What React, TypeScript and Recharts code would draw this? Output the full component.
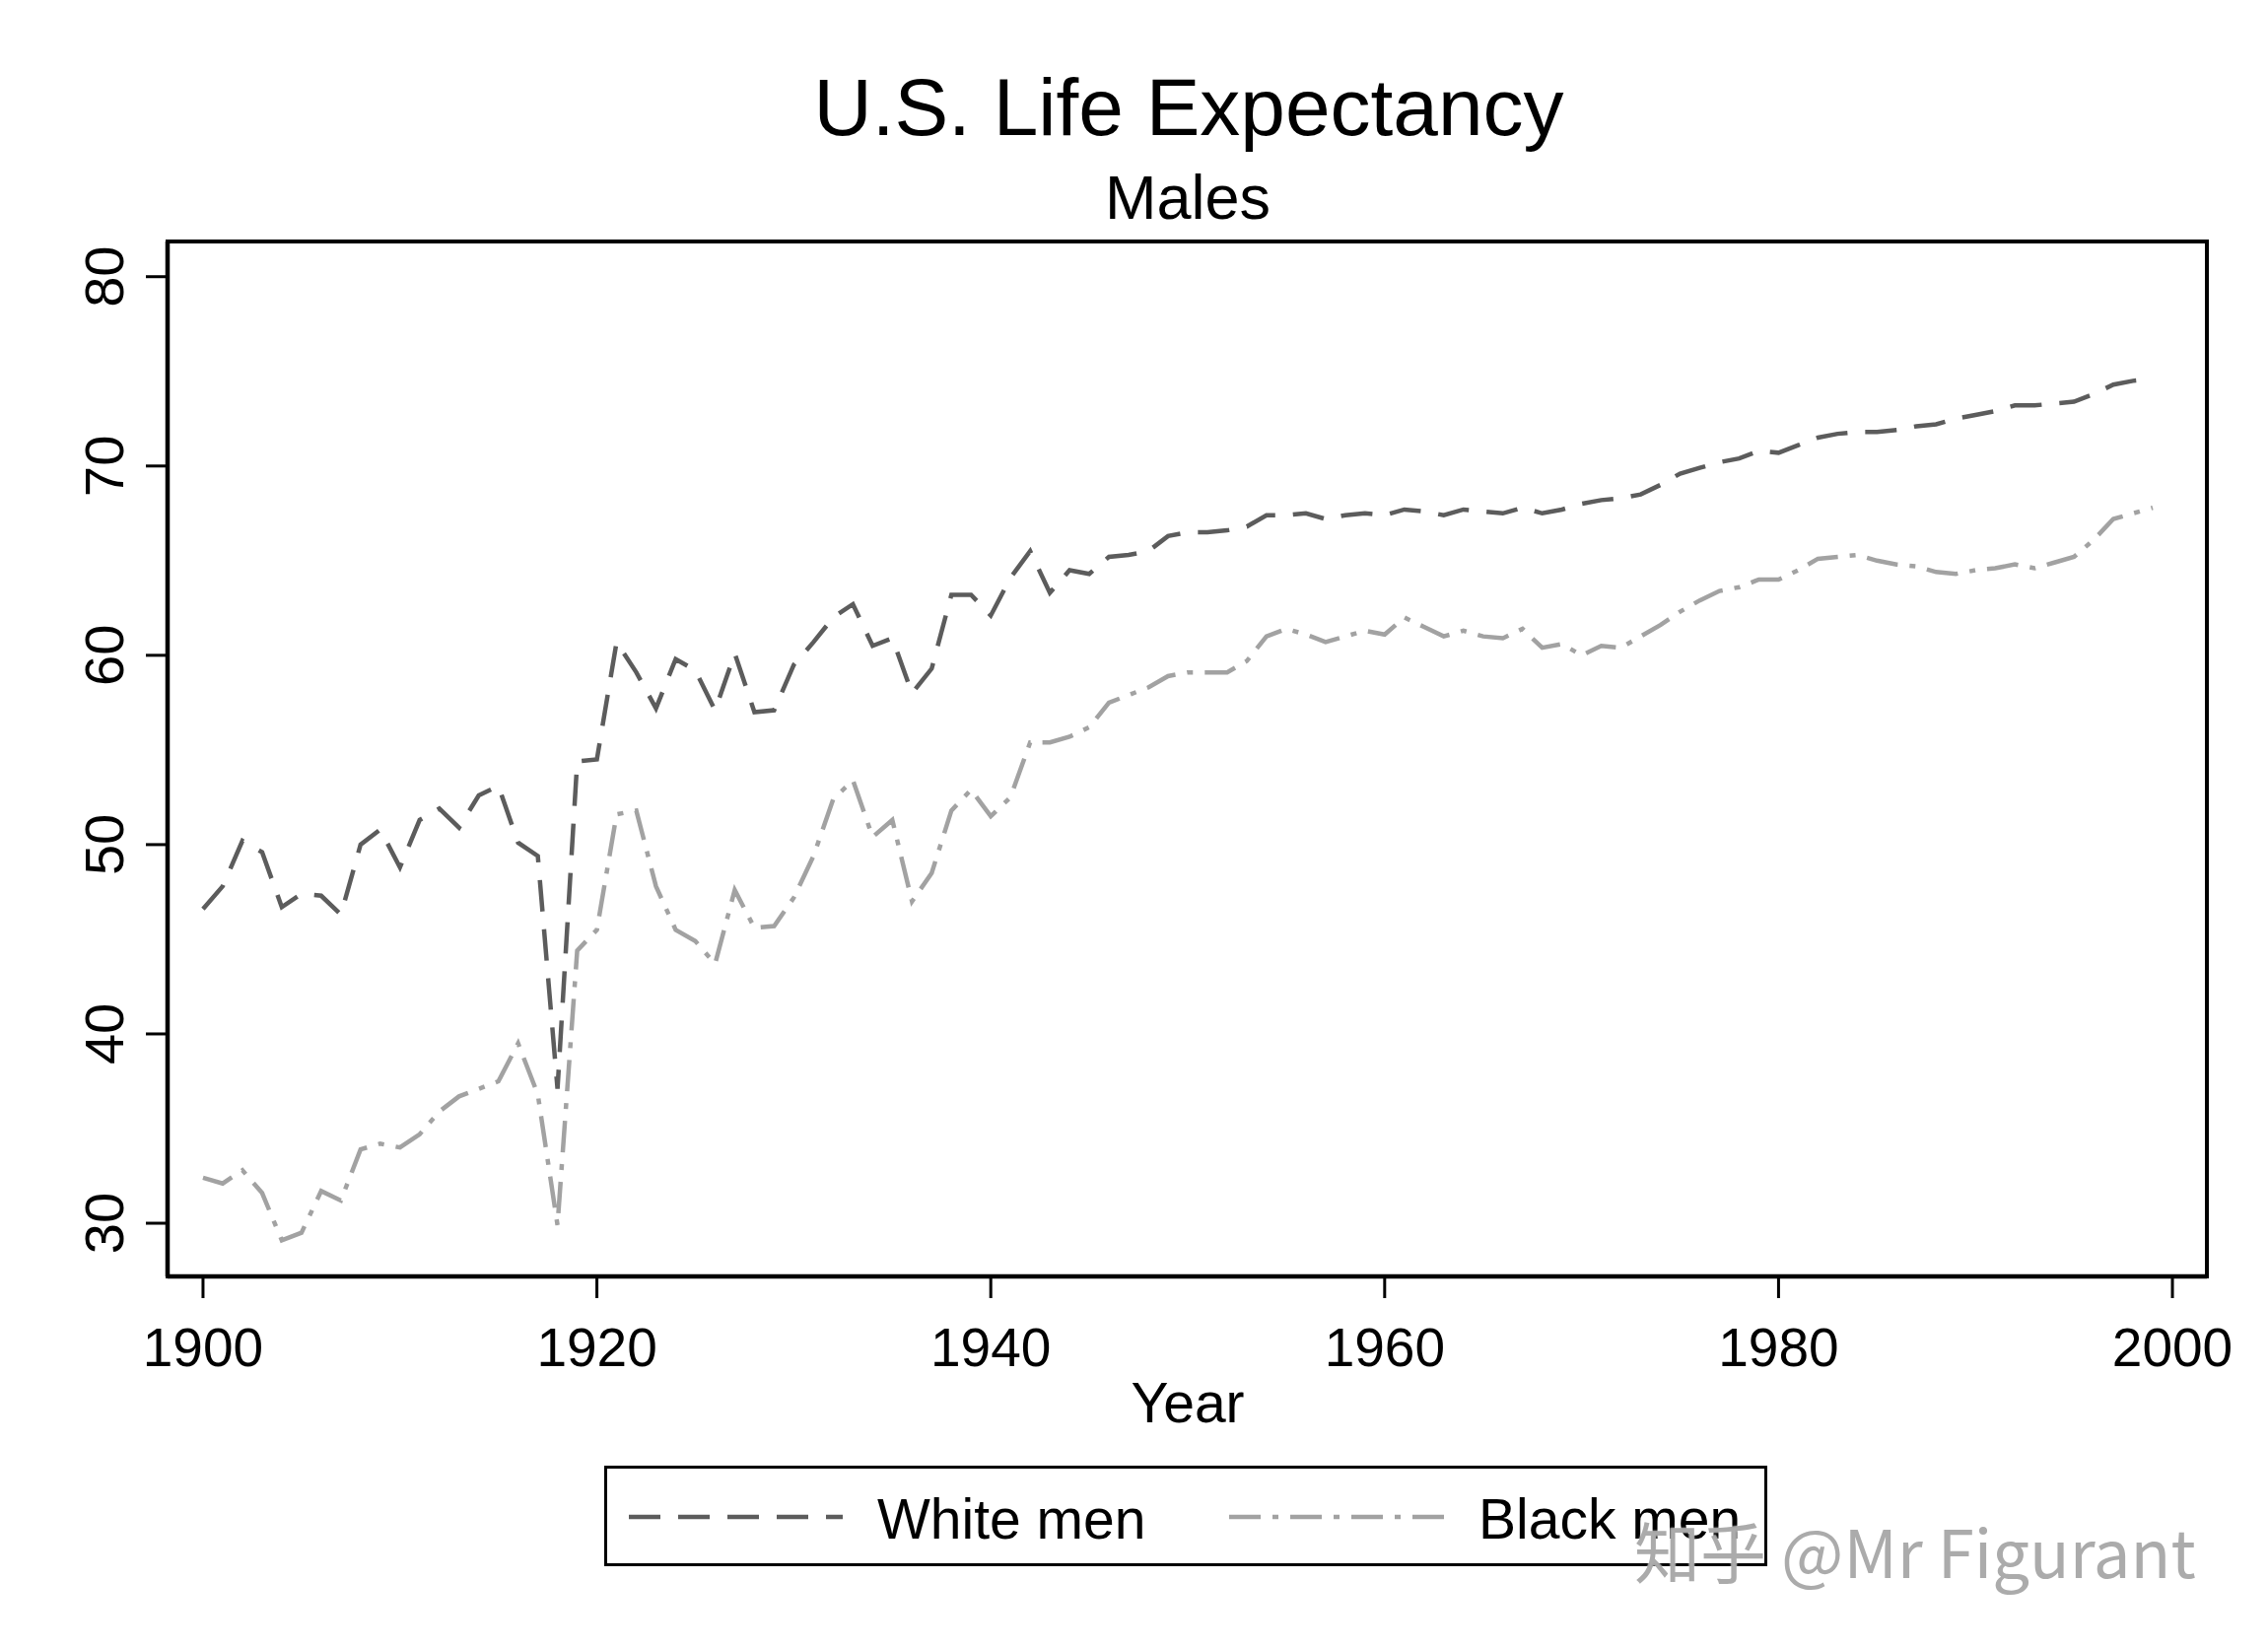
import { LineChart, Line, XAxis, YAxis } from 'recharts';

const FONT = '"Liberation Sans", Arial, Helvetica, sans-serif';

// years 1900-1999
const years = [
  1900, 1901, 1902, 1903, 1904, 1905, 1906, 1907, 1908, 1909,
  1910, 1911, 1912, 1913, 1914, 1915, 1916, 1917, 1918, 1919,
  1920, 1921, 1922, 1923, 1924, 1925, 1926, 1927, 1928, 1929,
  1930, 1931, 1932, 1933, 1934, 1935, 1936, 1937, 1938, 1939,
  1940, 1941, 1942, 1943, 1944, 1945, 1946, 1947, 1948, 1949,
  1950, 1951, 1952, 1953, 1954, 1955, 1956, 1957, 1958, 1959,
  1960, 1961, 1962, 1963, 1964, 1965, 1966, 1967, 1968, 1969,
  1970, 1971, 1972, 1973, 1974, 1975, 1976, 1977, 1978, 1979,
  1980, 1981, 1982, 1983, 1984, 1985, 1986, 1987, 1988, 1989,
  1990, 1991, 1992, 1993, 1994, 1995, 1996, 1997, 1998, 1999,
];

const whiteMen = [
  46.6, 47.8, 50.2, 49.6, 46.7, 47.4, 47.3, 46.3, 50.0, 50.8,
  48.8, 51.3, 51.9, 50.9, 52.6, 53.1, 50.1, 49.4, 37.1, 54.4,
  54.5, 60.7, 59.1, 57.2, 59.8, 59.2, 57.1, 60.1, 57.0, 57.1,
  59.5, 60.7, 62.0, 62.7, 60.5, 60.9, 58.0, 59.3, 63.2, 63.2,
  62.1, 64.1, 65.5, 63.3, 64.5, 64.3, 65.2, 65.3, 65.5, 66.3,
  66.5, 66.5, 66.6, 66.8, 67.4, 67.4, 67.5, 67.2, 67.4, 67.5,
  67.4, 67.7, 67.6, 67.4, 67.7, 67.6, 67.5, 67.8, 67.5, 67.7,
  68.0, 68.2, 68.3, 68.5, 69.0, 69.6, 69.9, 70.2, 70.4, 70.8,
  70.7, 71.1, 71.5, 71.7, 71.8, 71.8, 71.9, 72.1, 72.2, 72.5,
  72.7, 72.9, 73.2, 73.2, 73.3, 73.4, 73.8, 74.3, 74.5, 74.6,
];

const blackMen = [
  32.4, 32.1, 32.8, 31.6, 29.1, 29.5, 31.7, 31.2, 33.9, 34.2,
  34.0, 34.7, 35.9, 36.7, 37.1, 37.5, 39.5, 36.8, 29.9, 44.4,
  45.5, 51.6, 51.8, 47.8, 45.5, 44.9, 43.7, 47.6, 45.6, 45.7,
  47.2, 49.4, 52.4, 53.4, 50.4, 51.3, 47.0, 48.5, 51.8, 52.9,
  51.5, 52.5, 55.4, 55.4, 55.7, 56.2, 57.5, 57.9, 58.3, 58.9,
  59.1, 59.1, 59.1, 59.7, 61.0, 61.4, 61.1, 60.7, 61.0, 61.3,
  61.1, 62.0, 61.5, 61.0, 61.3, 61.0, 60.9, 61.4, 60.4, 60.6,
  60.0, 60.5, 60.4, 61.0, 61.6, 62.3, 62.9, 63.4, 63.6, 64.0,
  64.0, 64.5, 65.1, 65.2, 65.3, 65.0, 64.8, 64.7, 64.4, 64.3,
  64.5, 64.6, 64.8, 64.6, 64.9, 65.2, 66.1, 67.2, 67.5, 67.8,
];

const xTicks = [1900, 1920, 1940, 1960, 1980, 2000];
const yTicks = [30, 40, 50, 60, 70, 80];

const WHITE_COLOR = '#5c5c5c';
const BLACK_COLOR = '#a2a2a2';
const WHITE_DASH = '32 18';
const BLACK_DASH = '32 12 6 12';

const data = years.map((year, i) => ({
  year,
  white: whiteMen[i],
  black: blackMen[i],
}));

const RotatedTick = (props: any) => {
  const { x, y, payload } = props;
  return (
    <text
      transform={`translate(${x - 21}, ${y}) rotate(-90)`}
      textAnchor="middle"
      fontSize={56}
      fontFamily={FONT}
      fill="#000"
    >
      {payload.value}
    </text>
  );
};

const axisLine = { stroke: '#000', strokeWidth: 4.5 };
const tickLine = { stroke: '#000', strokeWidth: 3 };

const text = (size: number, baseline: number) => ({
  position: 'absolute' as const,
  fontFamily: FONT,
  fontSize: size,
  lineHeight: `${size}px`,
  top: baseline - 0.8465 * size,
  color: '#000',
  whiteSpace: 'nowrap' as const,
});

const App = () => {
  return (
    <div style={{ position: 'absolute', left: 0, top: 0, width: 2301, height: 1673, background: '#fff' }}>
      <LineChart
        width={2301}
        height={1673}
        data={data}
        margin={{ top: 245, right: 62, bottom: 278, left: 0 }}
      >
        <XAxis
          dataKey="year"
          type="number"
          domain={[1898.2, 2001.75]}
          ticks={xTicks}
          allowDataOverflow
          height={100}
          tickSize={22}
          tickMargin={30}
          axisLine={axisLine}
          tickLine={tickLine}
          tick={{ fontSize: 55, fill: '#000', fontFamily: FONT }}
        />
        <YAxis
          type="number"
          domain={[27.19, 81.86]}
          ticks={yTicks}
          allowDataOverflow
          width={170}
          tickSize={22}
          axisLine={axisLine}
          tickLine={tickLine}
          tick={<RotatedTick />}
        />
        <Line
          dataKey="white"
          stroke={WHITE_COLOR}
          strokeWidth={4.5}
          strokeDasharray={WHITE_DASH}
          dot={false}
          type="linear"
          isAnimationActive={false}
        />
        <Line
          dataKey="black"
          stroke={BLACK_COLOR}
          strokeWidth={4.5}
          strokeDasharray={BLACK_DASH}
          dot={false}
          type="linear"
          isAnimationActive={false}
        />
      </LineChart>

      {/* plot frame */}
      <div
        style={{
          position: 'absolute',
          left: 170 - 2.25,
          top: 245 - 2.25,
          width: 2239 - 170 + 4.5,
          height: 1295 - 245 + 4.5,
          boxSizing: 'border-box',
          border: '4.5px solid #000',
          pointerEvents: 'none',
        }}
      />

      <div style={{ ...text(82, 137), left: 0, width: 2412, textAlign: 'center' }}>U.S. Life Expectancy</div>
      <div style={{ ...text(63, 222), left: 0, width: 2410, textAlign: 'center' }}>Males</div>
      <div style={{ ...text(57, 1443), left: 0, width: 2410, textAlign: 'center' }}>Year</div>

      <div
        style={{
          position: 'absolute',
          left: 613,
          top: 1487,
          width: 1180,
          height: 102,
          boxSizing: 'border-box',
          border: '3.5px solid #000',
        }}
      />
      <svg style={{ position: 'absolute', left: 0, top: 0 }} width={2301} height={1673}>
        <line x1={638} y1={1539} x2={855} y2={1539} stroke={WHITE_COLOR} strokeWidth={4.5} strokeDasharray={WHITE_DASH} />
        <line x1={1247} y1={1539} x2={1467} y2={1539} stroke={BLACK_COLOR} strokeWidth={4.5} strokeDasharray={BLACK_DASH} />
      </svg>
      <div style={{ ...text(57, 1561), left: 890 }}>White men</div>
      <div style={{ ...text(57, 1561), left: 1500 }}>Black men</div>

      <div
        style={{
          ...text(67, 1595),
          left: 1658,
          fontFamily: '"Noto Sans CJK SC", "Noto Sans", sans-serif',
          color: 'rgba(150,150,150,0.8)',
          textShadow: '0 0 2px #fff',
        }}
      >
        知乎 @Mr Figurant
      </div>
    </div>
  );
};

export default App;
